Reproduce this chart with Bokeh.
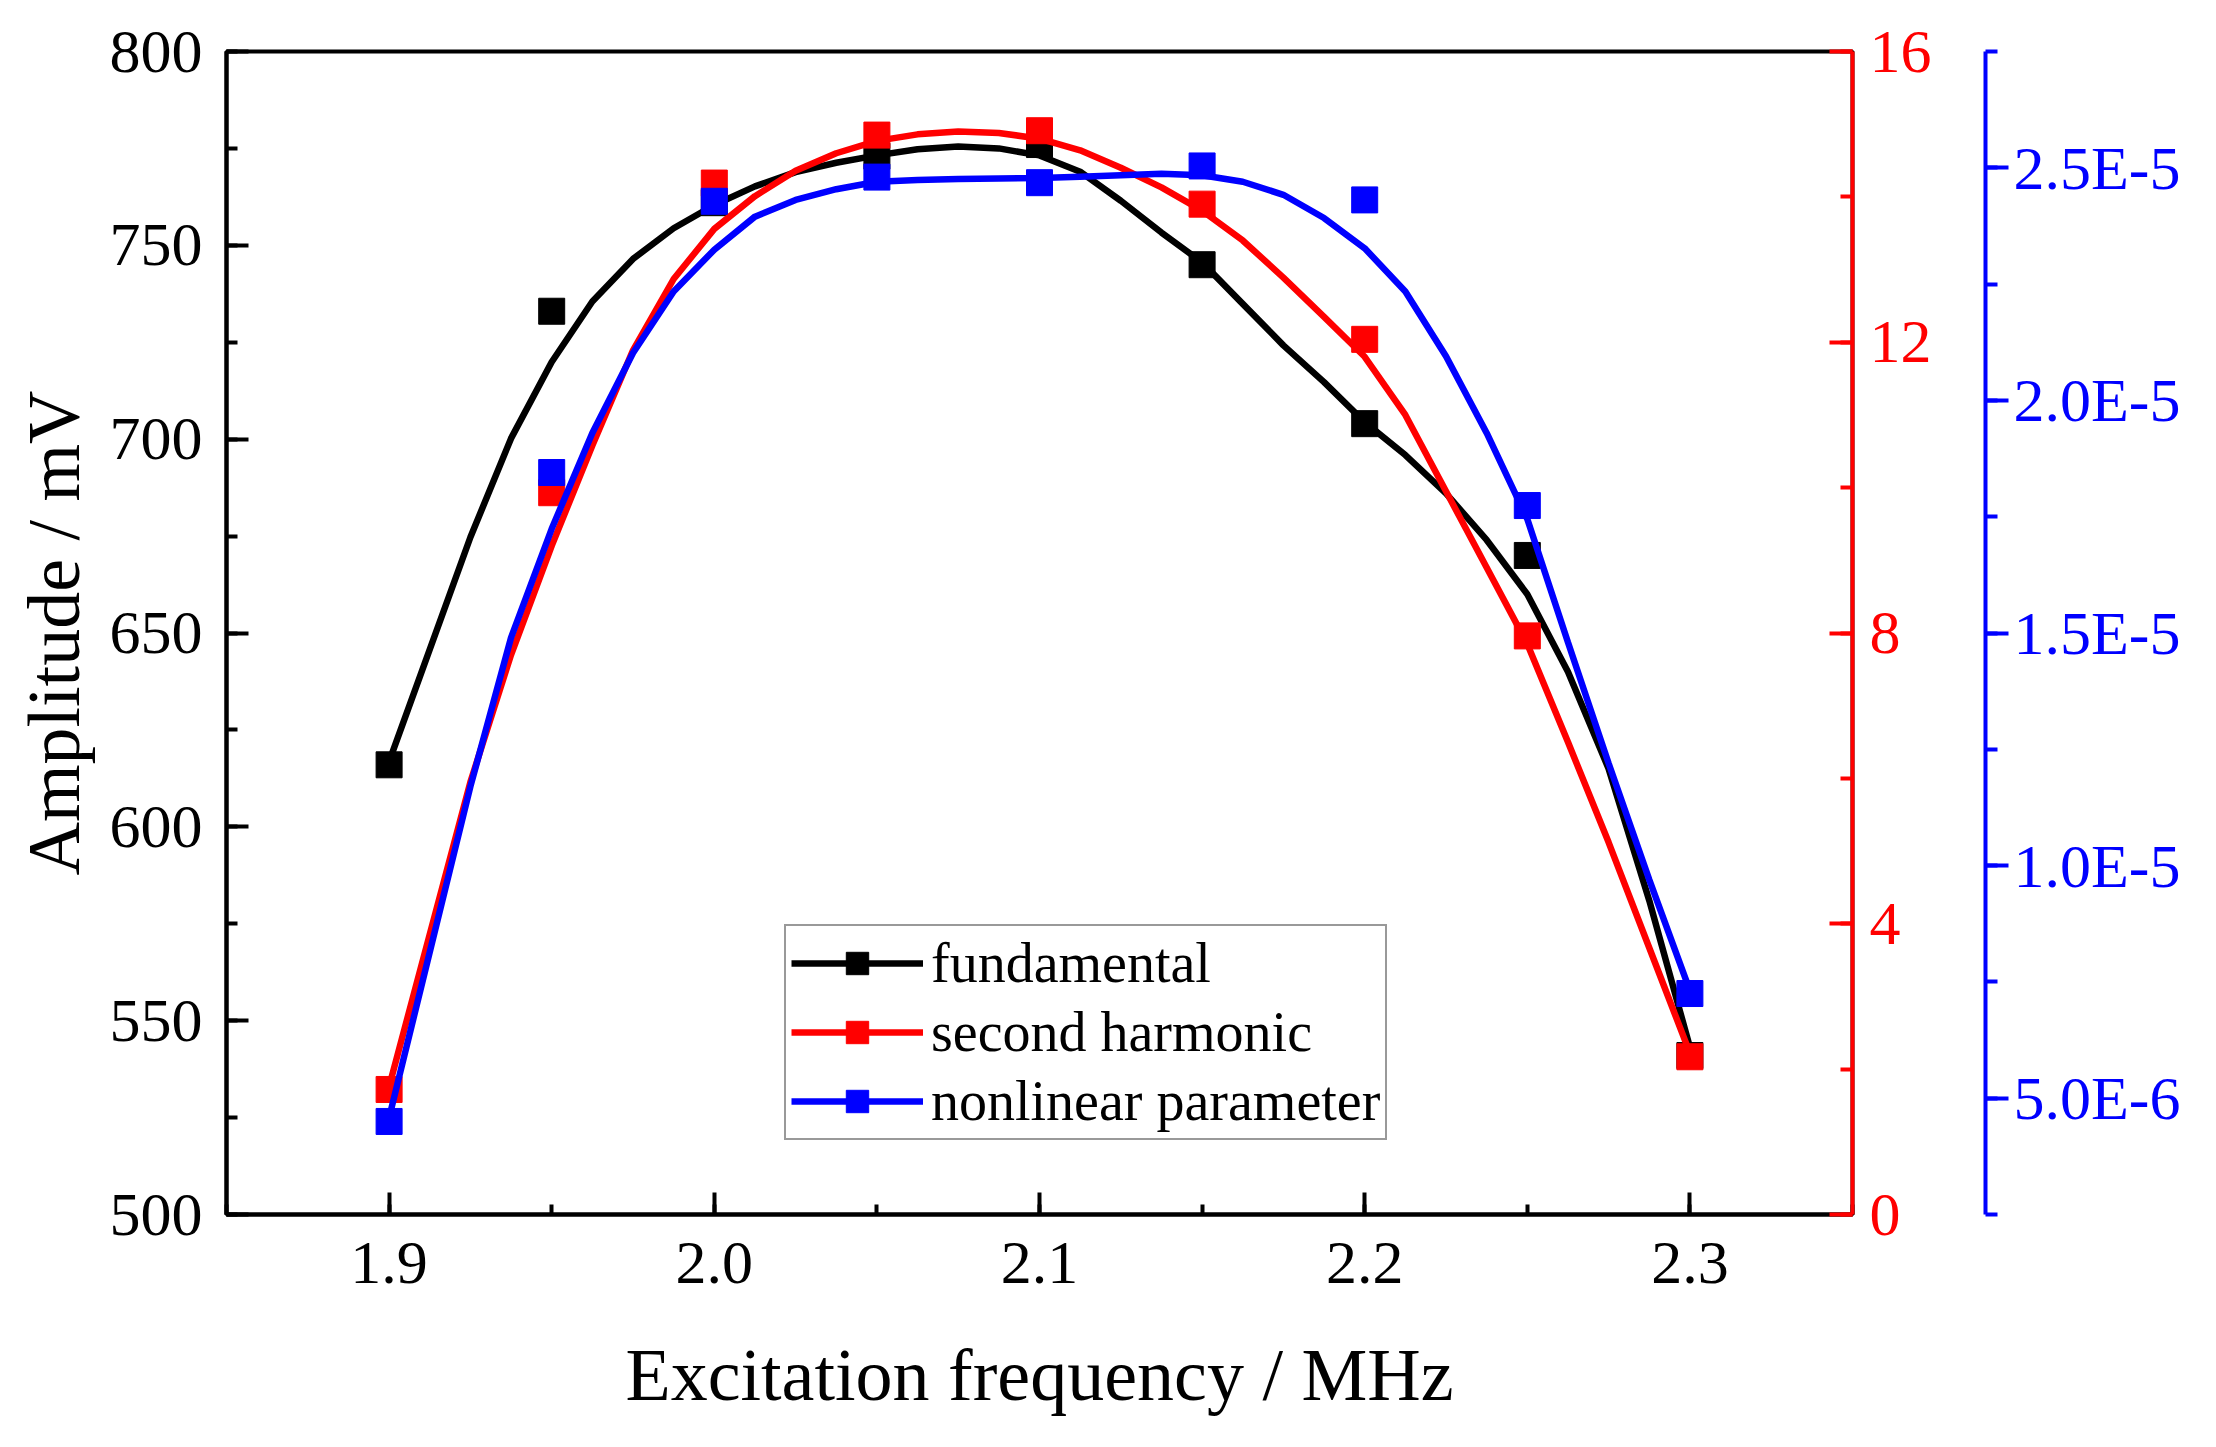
from bokeh.embed import file_html
from bokeh.models import (CustomJSTickFormatter, LinearAxis, NumeralTickFormatter,
                          Range1d, SingleIntervalTicker)
from bokeh.plotting import figure
from bokeh.resources import INLINE

FONT = "Liberation Serif"

# measured points
freq = [1.9, 1.95, 2.0, 2.05, 2.1, 2.15, 2.2, 2.25, 2.3]
fundamental = [616, 733, 761, 773, 776, 745, 704, 670, 541]
second_harmonic = [1.72, 9.93, 14.19, 14.85, 14.91, 13.9, 12.04, 7.96, 2.17]
nonlinear = [4.5e-6, 1.845e-5, 2.428e-5, 2.48e-5, 2.468e-5, 2.504e-5, 2.431e-5, 1.774e-5, 7.25e-6]

# smoothed curves
curve_freq = [1.9, 1.925, 1.9375, 1.95, 1.9625, 1.975, 1.9875, 2.0, 2.0125, 2.025, 2.0375,
              2.05, 2.0625, 2.075, 2.0875, 2.1, 2.1125, 2.125, 2.1375, 2.15, 2.1625,
              2.175, 2.1875, 2.2, 2.2125, 2.225, 2.2375, 2.25, 2.2625, 2.275, 2.2875, 2.3]
curve_fundamental = [616.8, 674.7, 700.2, 719.9, 735.5, 746.5, 754.4, 760.4, 765.2, 768.9, 771.3,
                     773.2, 774.8, 775.5, 775.0, 773.2, 769.0, 761.5, 753.3, 745.6, 734.9,
                     724.2, 714.7, 704.4, 695.9, 686.0, 674.0, 660.0, 640.0, 615.0, 581.0, 543.2]
curve_second = [1.76, 5.95, 7.7, 9.2, 10.58, 11.89, 12.87, 13.56, 14.01, 14.36, 14.6,
                14.77, 14.86, 14.9, 14.88, 14.8, 14.64, 14.40, 14.13, 13.81, 13.40,
                12.89, 12.35, 11.80, 11.0, 9.95, 8.9, 7.85, 6.5, 5.12, 3.67, 2.22]
curve_nonlinear = [4.58e-6, 1.17e-5, 1.49e-5, 1.724e-5, 1.93e-5, 2.102e-5, 2.234e-5, 2.324e-5, 2.395e-5,
                   2.431e-5, 2.454e-5, 2.47e-5, 2.474e-5, 2.476e-5, 2.477e-5, 2.478e-5, 2.481e-5,
                   2.484e-5, 2.487e-5, 2.484e-5, 2.47e-5, 2.442e-5, 2.392e-5, 2.327e-5, 2.234e-5,
                   2.095e-5, 1.93e-5, 1.745e-5, 1.48e-5, 1.22e-5, 9.7e-6, 7.31e-6]

BLACK, RED, BLUE = "#000000", "#ff0000", "#0000ff"
TICK_FONT = "62px"

p = figure(
    width=2200,
    height=1430,
    x_range=Range1d(1.85, 2.35),
    y_range=Range1d(500, 800),
    output_backend="svg",
    toolbar_location=None,
    min_border_left=226,
    min_border_right=348,
    min_border_top=51,
    min_border_bottom=216,
)
p.extra_y_ranges = {"red": Range1d(0, 16), "blue": Range1d(2.5e-6, 2.75e-5)}
p.xgrid.visible = False
p.ygrid.visible = False
p.outline_line_color = BLACK
p.outline_line_width = 4


def style_axis(ax, color, tick_in, tick_out, minor_in, minor_out, standoff):
    ax.axis_line_color = color
    ax.axis_line_width = 4
    ax.major_tick_line_color = color
    ax.minor_tick_line_color = color
    ax.major_tick_line_width = 4
    ax.minor_tick_line_width = 4
    ax.major_tick_in = tick_in
    ax.major_tick_out = tick_out
    ax.minor_tick_in = minor_in
    ax.minor_tick_out = minor_out
    ax.major_label_text_color = color
    ax.major_label_text_font = FONT
    ax.major_label_text_font_size = TICK_FONT
    ax.major_label_standoff = standoff


xa = p.xaxis[0]
xa.ticker = SingleIntervalTicker(interval=0.1, num_minor_ticks=2)
xa.formatter = NumeralTickFormatter(format="0.0")
style_axis(xa, BLACK, 22, 0, 10, 0, 28)
xa.axis_label = "Excitation frequency / MHz"
xa.axis_label_text_font = FONT
xa.axis_label_text_font_style = "normal"
xa.axis_label_text_font_size = "74px"
xa.axis_label_text_color = BLACK
xa.axis_label_standoff = 48

ya = p.yaxis[0]
ya.ticker = SingleIntervalTicker(interval=50, num_minor_ticks=2)
style_axis(ya, BLACK, 22, 0, 11, 0, 24)
ya.axis_label = "Amplitude / mV"
ya.axis_label_text_font = FONT
ya.axis_label_text_font_style = "normal"
ya.axis_label_text_font_size = "74px"
ya.axis_label_text_color = BLACK
ya.axis_label_standoff = 12

red_axis = LinearAxis(y_range_name="red", ticker=SingleIntervalTicker(interval=4, num_minor_ticks=2))
style_axis(red_axis, RED, 23, 0, 12, 0, 17)
red_axis.axis_label = " "
red_axis.axis_label_text_font_size = "34px"
red_axis.axis_label_standoff = 10
p.add_layout(red_axis, "right")

blue_axis = LinearAxis(
    y_range_name="blue",
    ticker=SingleIntervalTicker(interval=5e-6, num_minor_ticks=2),
    formatter=CustomJSTickFormatter(code="return tick.toExponential(1).toUpperCase().replace('+', '');"),
)
style_axis(blue_axis, BLUE, 0, 23, 0, 12, 5)
p.add_layout(blue_axis, "right")

p.line(curve_freq, curve_fundamental, line_width=6.5, color=BLACK, legend_label="fundamental")
p.scatter(freq, fundamental, marker="square", size=26, color=BLACK, legend_label="fundamental")

p.line(curve_freq, curve_second, line_width=6.5, color=RED, y_range_name="red", legend_label="second harmonic")
p.scatter(freq, second_harmonic, marker="square", size=26, color=RED, y_range_name="red",
          legend_label="second harmonic")

p.line(curve_freq, curve_nonlinear, line_width=6.5, color=BLUE, y_range_name="blue",
       legend_label="nonlinear parameter")
p.scatter(freq, nonlinear, marker="square", size=26, color=BLUE, y_range_name="blue",
          legend_label="nonlinear parameter")

lg = p.legend[0]
lg.location = (558, 74)
lg.label_text_font = FONT
lg.label_text_font_size = "56px"
lg.label_text_color = BLACK
lg.glyph_width = 132
lg.glyph_height = 56
lg.label_height = 56
lg.spacing = 5
lg.label_standoff = 8
lg.padding = 5
lg.margin = 0
lg.border_line_color = "#333333"
lg.border_line_width = 2
lg.background_fill_alpha = 1.0

open("out.html", "w").write(file_html(p, INLINE))
